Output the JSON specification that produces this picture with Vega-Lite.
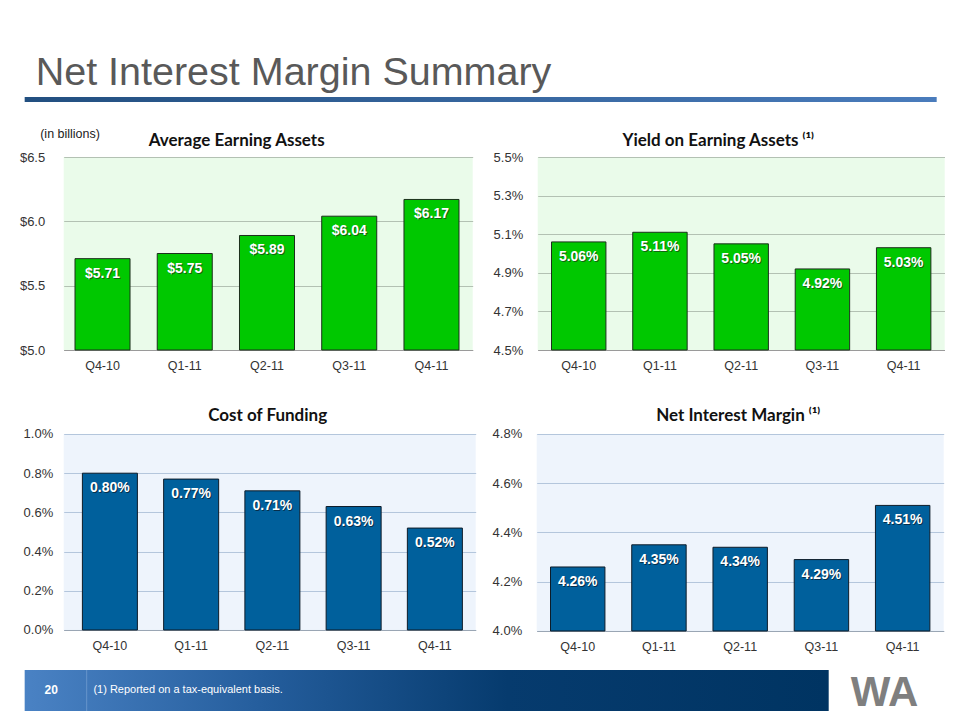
{
  "$schema": "https://vega.github.io/schema/vega-lite/v6.json",
  "background": "white",
  "padding": {"left": 18.7, "top": 52, "right": 0, "bottom": 0},
  "config": {"font": "Liberation Sans", "view": {"stroke": null}},
  "datasets": {
    "aea": [{"q": "Q4-10", "v": 5.71}, {"q": "Q1-11", "v": 5.75}, {"q": "Q2-11", "v": 5.89}, {"q": "Q3-11", "v": 6.04}, {"q": "Q4-11", "v": 6.17}],
    "yea": [{"q": "Q4-10", "v": 5.06}, {"q": "Q1-11", "v": 5.11}, {"q": "Q2-11", "v": 5.05}, {"q": "Q3-11", "v": 4.92}, {"q": "Q4-11", "v": 5.03}],
    "cof": [{"q": "Q4-10", "v": 0.80}, {"q": "Q1-11", "v": 0.77}, {"q": "Q2-11", "v": 0.71}, {"q": "Q3-11", "v": 0.63}, {"q": "Q4-11", "v": 0.52}],
    "nim": [{"q": "Q4-10", "v": 4.26}, {"q": "Q1-11", "v": 4.35}, {"q": "Q2-11", "v": 4.34}, {"q": "Q3-11", "v": 4.29}, {"q": "Q4-11", "v": 4.51}],
    "underline": [{"s": -0.0447, "e": 1}],
    "band": [{"s": -0.0445, "e": 0.8723}],
    "sep": [{"p": 0.0262}],
    "page": [{"p": -0.0142, "t": "20"}],
    "note": [{"p": 0.0339, "t": "(1) Reported on a tax-equivalent basis."}],
    "logo": [{"p": 0.936, "t": "WA"}]
  },
  "columns": 1,
  "align": "none",
  "spacing": 25,
  "concat": [
    {
      "width": 873, "height": 5,
      "title": {"text": "Net Interest Margin Summary", "anchor": "start", "frame": "group", "font": "Liberation Sans", "fontSize": 39.5, "fontWeight": "normal", "color": "#595959", "dx": -28, "baseline": "alphabetic", "offset": -27},
      "data": {"name": "underline"},
      "mark": {"type": "rect", "fill": {"gradient": "linear", "x1": 0, "x2": 1, "y1": 0, "y2": 0, "stops": [{"offset": 0, "color": "#224F80"}, {"offset": 1, "color": "#4A7CBC"}]}},
      "encoding": {
        "x": {"field": "s", "type": "quantitative", "scale": {"domain": [0, 1]}, "axis": null},
        "x2": {"field": "e"}
      }
    },
    {
      "columns": 1,
      "align": "none",
      "spacing": 15,
      "concat": [
        {
          "columns": 1,
          "align": "none",
          "spacing": 34,
          "concat": [
            {
              "spacing": 20,
              "hconcat": [
                {
                  "width": 409, "height": 193,
                  "data": {"name": "aea"},
                  "title": {"text": "Average Earning Assets", "frame": "group", "dx": -31.5, "baseline": "alphabetic", "offset": -35.5, "font": "Lato", "fontSize": 17, "fontWeight": "bold", "color": "#111111"},
                  "view": {"fill": "#EAFBEA", "stroke": null},
                  "encoding": {
                    "x": {"field": "q", "type": "nominal", "sort": null, "scale": {"paddingInner": 0.331, "paddingOuter": 0.152, "align": 0.452}, "axis": {"title": null, "labelAngle": 0, "labelFontSize": 12.5, "labelColor": "#333333", "ticks": false, "domainColor": "#9a9a9a", "labelPadding": 10}},
                    "y": {"field": "v", "type": "quantitative", "scale": {"domain": [5.0, 6.5], "nice": false, "zero": false}, "axis": {"title": "(in billions)", "titleAngle": 0, "titleAlign": "left", "titleBaseline": "middle", "titleX": -24, "titleY": -24, "titleFont": "Liberation Sans", "titleFontSize": 12.5, "titleFontWeight": "normal", "titleColor": "#222222", "values": [5.0, 5.5, 6.0, 6.5], "labelExpr": "'$' + format(datum.value, '.1f')", "grid": true, "gridColor": "#b3c1b3", "domain": false, "ticks": false, "labelFontSize": 13, "labelColor": "#333333", "labelPadding": 19}}
                  },
                  "layer": [
                    {"mark": {"type": "bar", "fill": "#00C800", "stroke": "#1c2e1c", "strokeWidth": 1}, "encoding": {"y2": {"datum": 5.0}}},
                    {"mark": {"type": "text", "color": "#1a3a1a", "opacity": 0.7, "fontWeight": "bold", "fontSize": 14, "baseline": "middle", "dx": 1, "dy": 16, "text": {"expr": "'$' + format(datum.v, '.2f')"}}},
                    {"mark": {"type": "text", "color": "white", "fontWeight": "bold", "fontSize": 14, "baseline": "middle", "dy": 15, "text": {"expr": "'$' + format(datum.v, '.2f')"}}}
                  ]
                },
                {
                  "width": 407, "height": 193,
                  "data": {"name": "yea"},
                  "title": {"text": "Yield on Earning Assets ⁽¹⁾", "frame": "group", "dx": -23, "baseline": "alphabetic", "offset": -12, "font": "Lato", "fontSize": 17, "fontWeight": "bold", "color": "#111111"},
                  "view": {"fill": "#EAFBEA", "stroke": null},
                  "encoding": {
                    "x": {"field": "q", "type": "nominal", "sort": null, "scale": {"paddingInner": 0.33, "paddingOuter": 0.17}, "axis": {"title": null, "labelAngle": 0, "labelFontSize": 12.5, "labelColor": "#333333", "ticks": false, "domainColor": "#9a9a9a", "labelPadding": 10}},
                    "y": {"field": "v", "type": "quantitative", "scale": {"domain": [4.5, 5.5], "nice": false, "zero": false}, "axis": {"title": null, "values": [4.5, 4.7, 4.9, 5.1, 5.3, 5.5], "labelExpr": "format(datum.value, '.1f') + '%'", "grid": true, "gridColor": "#b3c1b3", "domain": false, "ticks": false, "labelFontSize": 13, "labelColor": "#333333", "labelPadding": 15}}
                  },
                  "layer": [
                    {"mark": {"type": "bar", "fill": "#00C800", "stroke": "#1c2e1c", "strokeWidth": 1}, "encoding": {"y2": {"datum": 4.5}}},
                    {"mark": {"type": "text", "color": "#1a3a1a", "opacity": 0.7, "fontWeight": "bold", "fontSize": 14, "baseline": "middle", "dx": 1, "dy": 16, "text": {"expr": "format(datum.v, '.2f') + '%'"}}},
                    {"mark": {"type": "text", "color": "white", "fontWeight": "bold", "fontSize": 14, "baseline": "middle", "dy": 15, "text": {"expr": "format(datum.v, '.2f') + '%'"}}}
                  ]
                }
              ]
            },
            {
              "spacing": 16,
              "hconcat": [
                {
                  "width": 412, "height": 196,
                  "data": {"name": "cof"},
                  "title": {"text": "Cost of Funding", "frame": "group", "dx": -2, "baseline": "alphabetic", "offset": -10, "font": "Lato", "fontSize": 17, "fontWeight": "bold", "color": "#111111"},
                  "view": {"fill": "#EEF4FC", "stroke": null},
                  "encoding": {
                    "x": {"field": "q", "type": "nominal", "sort": null, "scale": {"paddingInner": 0.323, "paddingOuter": 0.197, "align": 0.584}, "axis": {"title": null, "labelAngle": 0, "labelFontSize": 12.5, "labelColor": "#333333", "ticks": false, "domainColor": "#9aa6b4", "labelPadding": 10}},
                    "y": {"field": "v", "type": "quantitative", "scale": {"domain": [0.0, 1.0], "nice": false, "zero": false}, "axis": {"title": null, "values": [0.0, 0.2, 0.4, 0.6, 0.8, 1.0], "labelExpr": "format(datum.value, '.1f') + '%'", "grid": true, "gridColor": "#b4c6dc", "domain": false, "ticks": false, "labelFontSize": 13, "labelColor": "#333333", "labelPadding": 11}}
                  },
                  "layer": [
                    {"mark": {"type": "bar", "fill": "#00609C", "stroke": "#0d1b28", "strokeWidth": 1}, "encoding": {"y2": {"datum": 0.0}}},
                    {"mark": {"type": "text", "color": "#0a1a2a", "opacity": 0.7, "fontWeight": "bold", "fontSize": 14, "baseline": "middle", "dx": 1, "dy": 16, "text": {"expr": "format(datum.v, '.2f') + '%'"}}},
                    {"mark": {"type": "text", "color": "white", "fontWeight": "bold", "fontSize": 14, "baseline": "middle", "dy": 15, "text": {"expr": "format(datum.v, '.2f') + '%'"}}}
                  ]
                },
                {
                  "width": 407, "height": 197,
                  "data": {"name": "nim"},
                  "title": {"text": "Net Interest Margin ⁽¹⁾", "frame": "group", "dx": -2, "baseline": "alphabetic", "offset": -10, "font": "Lato", "fontSize": 17, "fontWeight": "bold", "color": "#111111"},
                  "view": {"fill": "#EEF4FC", "stroke": null},
                  "encoding": {
                    "x": {"field": "q", "type": "nominal", "sort": null, "scale": {"paddingInner": 0.33, "paddingOuter": 0.17}, "axis": {"title": null, "labelAngle": 0, "labelFontSize": 12.5, "labelColor": "#333333", "ticks": false, "domainColor": "#9aa6b4", "labelPadding": 10}},
                    "y": {"field": "v", "type": "quantitative", "scale": {"domain": [4.0, 4.8], "nice": false, "zero": false}, "axis": {"title": null, "values": [4.0, 4.2, 4.4, 4.6, 4.8], "labelExpr": "format(datum.value, '.1f') + '%'", "grid": true, "gridColor": "#b4c6dc", "domain": false, "ticks": false, "labelFontSize": 13, "labelColor": "#333333", "labelPadding": 15}}
                  },
                  "layer": [
                    {"mark": {"type": "bar", "fill": "#00609C", "stroke": "#0d1b28", "strokeWidth": 1}, "encoding": {"y2": {"datum": 4.0}}},
                    {"mark": {"type": "text", "color": "#0a1a2a", "opacity": 0.7, "fontWeight": "bold", "fontSize": 14, "baseline": "middle", "dx": 1, "dy": 16, "text": {"expr": "format(datum.v, '.2f') + '%'"}}},
                    {"mark": {"type": "text", "color": "white", "fontWeight": "bold", "fontSize": 14, "baseline": "middle", "dy": 15, "text": {"expr": "format(datum.v, '.2f') + '%'"}}}
                  ]
                }
              ]
            }
          ]
        },
        {
          "width": 877, "height": 41,
          "view": {"fill": null, "stroke": null},
          "layer": [
            {
              "data": {"name": "band"},
              "mark": {"type": "rect", "fill": {"gradient": "linear", "x1": 0, "x2": 1, "y1": 0, "y2": 0, "stops": [{"offset": 0, "color": "#4A82C4"}, {"offset": 0.3, "color": "#245D9C"}, {"offset": 0.6, "color": "#063B6E"}, {"offset": 1, "color": "#003462"}]}},
              "encoding": {"x": {"field": "s", "type": "quantitative", "scale": {"domain": [0, 1]}, "axis": null}, "x2": {"field": "e"}}
            },
            {
              "data": {"name": "sep"},
              "mark": {"type": "rule", "color": "#8fb2dc", "opacity": 0.5, "strokeWidth": 1},
              "encoding": {"x": {"field": "p", "type": "quantitative", "scale": {"domain": [0, 1]}, "axis": null}}
            },
            {
              "data": {"name": "page"},
              "mark": {"type": "text", "color": "white", "fontWeight": "bold", "fontSize": 12, "align": "center", "baseline": "middle"},
              "encoding": {"x": {"field": "p", "type": "quantitative", "scale": {"domain": [0, 1]}, "axis": null}, "text": {"field": "t"}}
            },
            {
              "data": {"name": "note"},
              "mark": {"type": "text", "color": "white", "fontSize": 11, "align": "left", "baseline": "middle"},
              "encoding": {"x": {"field": "p", "type": "quantitative", "scale": {"domain": [0, 1]}, "axis": null}, "text": {"field": "t"}}
            },
            {
              "data": {"name": "logo"},
              "mark": {"type": "text", "color": "#7f7f7f", "fontWeight": "bold", "fontSize": 42, "align": "center", "baseline": "middle", "dy": 3},
              "encoding": {"x": {"field": "p", "type": "quantitative", "scale": {"domain": [0, 1]}, "axis": null}, "text": {"field": "t"}}
            }
          ]
        }
      ]
    }
  ]
}
